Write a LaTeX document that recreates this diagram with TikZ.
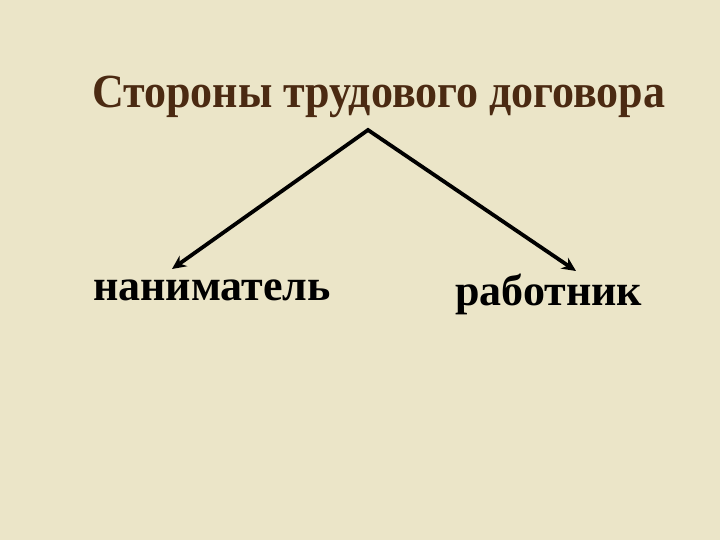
\documentclass[tikz,border=0pt]{standalone}
\usepackage{fontspec}
\setmainfont{Liberation Serif}
\usetikzlibrary{arrows.meta}
\definecolor{bg}{HTML}{EBE5C8}
\definecolor{titlebrown}{HTML}{4B2A12}
\begin{document}
\begin{tikzpicture}[x=1pt,y=-1pt,
  lbl/.style={anchor=base west,inner sep=0pt,font=\fontsize{44}{48}\selectfont\bfseries},
  conn/.style={line width=3.8pt,line join=miter,{Stealth[length=14pt,width=13pt]}-{Stealth[length=14pt,width=13pt]}}]
\fill[bg] (0,0) rectangle (720,540);
\useasboundingbox (0,0) rectangle (720,540);
\node[lbl,text=titlebrown,yscale=1.08] (title) at (92,108) {Стороны трудового договора};
\coordinate (apex) at (368,130);
\coordinate (lefttip) at (172,269);
\coordinate (righttip) at (576,271);
\node[lbl,text=black] (left) at (93,300) {наниматель};
\node[lbl,text=black] (right) at (455,305) {работник};
\draw[conn] (lefttip) -- (apex) -- (righttip);
\end{tikzpicture}
\end{document}
